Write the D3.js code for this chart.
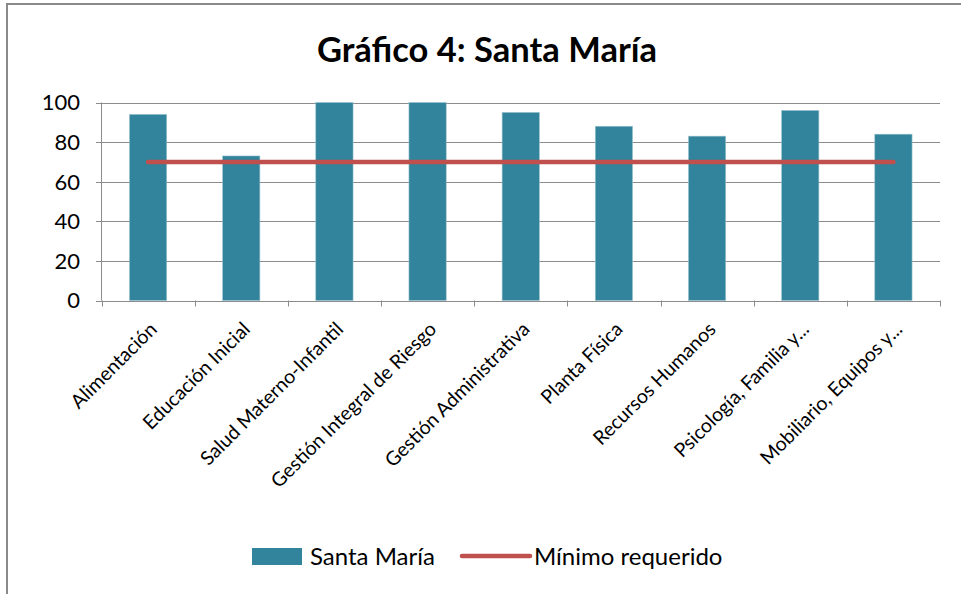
<!DOCTYPE html>
<html>
<head>
<meta charset="utf-8">
<script src="https://cdn.jsdelivr.net/npm/d3@7"></script>
<style>
  html, body { margin: 0; padding: 0; background: #fff; }
  svg { display: block; font-family: Lato, "Noto Sans", sans-serif; }
</style>
</head>
<body>
<script>
  const WIDTH = 961
  const HEIGHT = 594

  // categorias y valores
  const CATEGORIES = [
    'Alimentación', 'Educación Inicial', 'Salud Materno-Infantil',
    'Gestión Integral de Riesgo', 'Gestión Administrativa', 'Planta Física',
    'Recursos  Humanos', 'Psicología, Familia y...', 'Mobiliario, Equipos y...'
  ]
  const VALUES = [94, 73, 100, 100, 95, 88, 83, 96, 84]
  const MINIMO = [70, 70, 70, 70, 70, 70, 70, 70, 70]
  const Y_TICKS = [0, 20, 40, 60, 80, 100]
  const SERIES = ['Santa María', 'Mínimo requerido']

  const BAR_COLOR = '#31849b'
  const LINE_COLOR = '#c0504d'
  const GRID = '#8c8c8c'

  const svg = d3.select('body').append('svg')
    .attr('width', WIDTH)
    .attr('height', HEIGHT)

  // marco del grafico
  svg.append('path')
    .attr('d', `M7,${HEIGHT} L7,4 L${WIDTH},4`)
    .attr('fill', 'none')
    .attr('stroke', '#8a8a8a')
    .attr('stroke-width', 2)

  // titulo
  svg.append('text')
    .attr('x', 487)
    .attr('y', 62)
    .attr('text-anchor', 'middle')
    .attr('font-size', 34.5)
    .attr('font-weight', 'bold')
    .attr('fill', '#000')
    .text('Gráfico 4: Santa María')

  const x = d3.scaleBand()
    .domain(CATEGORIES)
    .range([101.5, 940])
    .paddingInner(0.6)
    .paddingOuter(0.3)

  const y = d3.scaleLinear()
    .domain([0, 100])
    .range([300.5, 102.5])

  // lineas de cuadricula
  svg.append('g')
    .selectAll('line')
    .data(Y_TICKS)
    .join('line')
    .attr('x1', 96)
    .attr('x2', 940)
    .attr('y1', d => Math.round(y(d)) + 0.5)
    .attr('y2', d => Math.round(y(d)) + 0.5)
    .attr('stroke', GRID)
    .attr('stroke-width', 1)

  // eje y
  svg.append('line')
    .attr('x1', 101.5).attr('x2', 101.5)
    .attr('y1', y(100)).attr('y2', y(0))
    .attr('stroke', GRID)

  svg.append('g')
    .selectAll('text')
    .data(Y_TICKS)
    .join('text')
    .attr('x', 80)
    .attr('y', d => y(d))
    .attr('dy', '0.36em')
    .attr('text-anchor', 'end')
    .attr('font-size', 22)
    .attr('fill', '#000')
    .text(d => d)

  // eje x: marcas entre categorias
  const x0 = 101.5
  const bounds = d3.range(CATEGORIES.length + 1).map(i => x0 + i * (940 - x0) / CATEGORIES.length)
  svg.append('g')
    .selectAll('line')
    .data(bounds)
    .join('line')
    .attr('x1', d => Math.round(d) + 0.5)
    .attr('x2', d => Math.round(d) + 0.5)
    .attr('y1', y(0))
    .attr('y2', y(0) + 6)
    .attr('stroke', GRID)

  // barras
  svg.append('g')
    .selectAll('rect')
    .data(VALUES)
    .join('rect')
    .attr('x', (d, i) => x(CATEGORIES[i]))
    .attr('width', x.bandwidth())
    .attr('y', d => y(d))
    .attr('height', d => y(0) - y(d))
    .attr('fill', BAR_COLOR)
    .attr('stroke', '#9cc3cf')
    .attr('stroke-width', 0.6)

  // linea de minimo requerido
  const line = d3.line()
    .x((d, i) => x(CATEGORIES[i]) + x.bandwidth() / 2)
    .y(d => y(d))

  svg.append('path')
    .datum(MINIMO)
    .attr('d', line)
    .attr('fill', 'none')
    .attr('stroke', LINE_COLOR)
    .attr('stroke-width', 4.5)
    .attr('stroke-linecap', 'round')

  // etiquetas de categorias
  svg.append('g')
    .selectAll('text')
    .data(CATEGORIES)
    .join('text')
    .attr('transform', d => `translate(${x(d) + x.bandwidth() / 2 + 10},${y(0) + 30}) rotate(-45)`)
    .attr('text-anchor', 'end')
    .attr('font-size', 19.5)
    .attr('fill', '#000')
    .text(d => d)

  // leyenda
  const legend = svg.append('g')
  legend.append('rect')
    .attr('x', 252).attr('y', 548)
    .attr('width', 50).attr('height', 17)
    .attr('fill', BAR_COLOR)
  legend.append('text')
    .attr('x', 310).attr('y', 556)
    .attr('dy', '0.36em')
    .attr('font-size', 24)
    .attr('fill', '#000')
    .text(SERIES[0])
  legend.append('line')
    .attr('x1', 462).attr('x2', 530)
    .attr('y1', 556).attr('y2', 556)
    .attr('stroke', LINE_COLOR)
    .attr('stroke-width', 4.5)
    .attr('stroke-linecap', 'round')
  legend.append('text')
    .attr('x', 534).attr('y', 556)
    .attr('dy', '0.36em')
    .attr('font-size', 24)
    .attr('fill', '#000')
    .text(SERIES[1])
</script>
</body>
</html>
